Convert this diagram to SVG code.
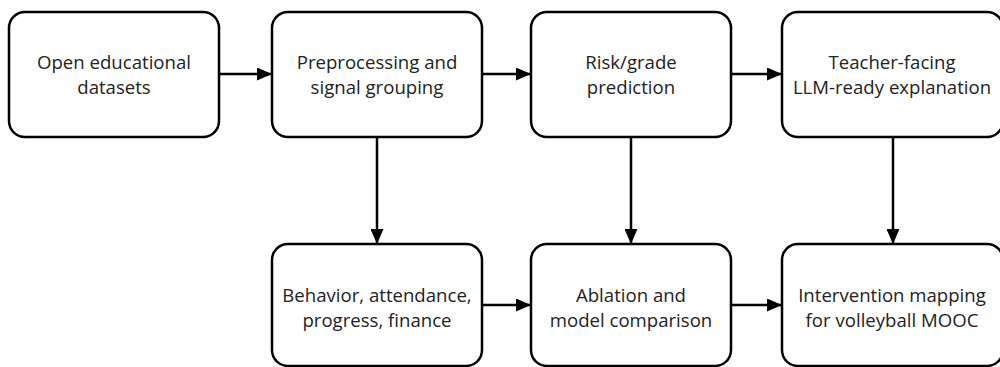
<svg xmlns="http://www.w3.org/2000/svg" width="1000" height="367" viewBox="0 0 1000 367">
<defs>
<style>
.box{fill:#fff;stroke:#000;stroke-width:2.5}
.lbl{font-family:"Open Sans","Noto Sans","DejaVu Sans",sans-serif;font-size:18.6px;fill:#222;text-anchor:middle}
.edge{stroke:#000;stroke-width:2.5;fill:none;marker-end:url(#ah)}
</style>
<marker id="ah" markerWidth="15" markerHeight="13" refX="15" refY="6.5" orient="auto" markerUnits="userSpaceOnUse">
<path d="M0,0 L15,6.5 L0,13 Z" fill="#000"/>
</marker>
</defs>
<rect width="1000" height="367" fill="#fff"/>
<g id="connectors">
<line class="edge" x1="219" y1="74" x2="272" y2="74"/>
<line class="edge" x1="482" y1="74" x2="531" y2="74"/>
<line class="edge" x1="731" y1="74" x2="782" y2="74"/>
<line class="edge" x1="377" y1="137" x2="377" y2="244"/>
<line class="edge" x1="631" y1="137" x2="631" y2="244"/>
<line class="edge" x1="893" y1="137" x2="893" y2="244"/>
<line class="edge" x1="482" y1="305" x2="531" y2="305"/>
<line class="edge" x1="731" y1="305" x2="782" y2="305"/>
</g>
<g id="n1"><rect class="box" x="9" y="12" width="210" height="125" rx="16"/>
<text class="lbl" x="114" y="69">Open educational</text><text class="lbl" x="114" y="94">datasets</text></g>
<g id="n2"><rect class="box" x="272" y="12" width="210" height="125" rx="16"/>
<text class="lbl" x="377" y="69">Preprocessing and</text><text class="lbl" x="377" y="94">signal grouping</text></g>
<g id="n3"><rect class="box" x="531" y="12" width="200" height="125" rx="16"/>
<text class="lbl" x="631" y="69">Risk/grade</text><text class="lbl" x="631" y="94">prediction</text></g>
<g id="n4"><rect class="box" x="782" y="12" width="221" height="125" rx="16"/>
<text class="lbl" x="892" y="69">Teacher-facing</text><text class="lbl" x="892" y="94">LLM-ready explanation</text></g>
<g id="n5"><rect class="box" x="272" y="244" width="210" height="122" rx="16"/>
<text class="lbl" x="377" y="302">Behavior, attendance,</text><text class="lbl" x="377" y="327">progress, finance</text></g>
<g id="n6"><rect class="box" x="531" y="244" width="200" height="122" rx="16"/>
<text class="lbl" x="631" y="302">Ablation and</text><text class="lbl" x="631" y="327">model comparison</text></g>
<g id="n7"><rect class="box" x="782" y="244" width="221" height="122" rx="16"/>
<text class="lbl" x="892" y="302">Intervention mapping</text><text class="lbl" x="892" y="327">for volleyball MOOC</text></g>
</svg>
